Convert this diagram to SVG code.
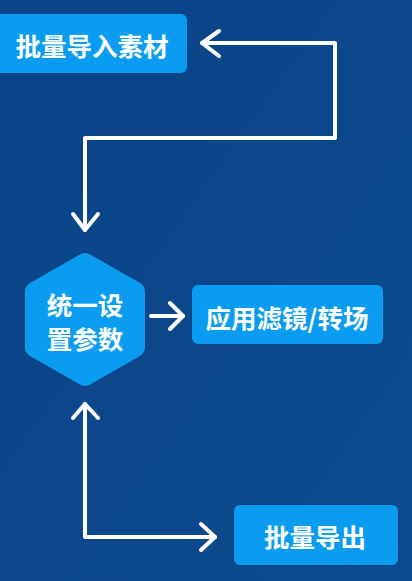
<svg xmlns="http://www.w3.org/2000/svg" width="412" height="581" viewBox="0 0 412 581">
<defs>
<linearGradient id="bg" x1="0" y1="0" x2="1" y2="1">
<stop offset="0" stop-color="#0b4488"/>
<stop offset="1" stop-color="#0d4a8e"/>
</linearGradient>
</defs>
<style>
.box{fill:#0a9cf0}
.t{font-family:"Noto Sans CJK SC","Noto Sans",sans-serif;font-weight:bold;font-size:25.5px;fill:#ffffff;text-anchor:middle;dominant-baseline:central}
.ln{fill:none;stroke:#ffffff;stroke-width:4;stroke-linecap:round;stroke-linejoin:round}
</style>
<rect width="412" height="581" fill="url(#bg)"/>
<g id="connectors">
<polyline class="ln" points="202,43 335,43 335,138 85,138 85,230"/>
<polyline class="ln" points="219,31 202,43 219,56"/>
<polyline class="ln" points="73,214 85,230 98,214"/>
<line class="ln" x1="151" y1="316" x2="183" y2="316"/>
<polyline class="ln" points="170,303 183,316 170,329"/>
<polyline class="ln" points="85,404 85,537 215,537"/>
<polyline class="ln" points="73,418 85,404 98,418"/>
<polyline class="ln" points="201,524 215,537 201,550"/>
</g>
<g id="node-import">
<rect class="box" x="-6" y="14" width="193" height="59" rx="6"/>
<text class="t" x="92" y="44">批量导入素材</text>
</g>
<g id="node-settings">
<path class="box" d="M79,255 Q85,251 91,255 L140,283 Q145,286 145,292 L145,347 Q145,353 140,356 L91,384 Q85,388 79,384 L30,356 Q25,353 25,347 L25,292 Q25,286 30,283 Z"/>
<text class="t" x="85" y="303">统一设</text>
<text class="t" x="85" y="337">置参数</text>
</g>
<g id="node-filter">
<rect class="box" x="192" y="285" width="191" height="59" rx="6"/>
<text class="t" x="287" y="316">应用滤镜/转场</text>
</g>
<g id="node-export">
<rect class="box" x="234" y="505" width="164" height="60" rx="6"/>
<text class="t" x="315" y="535">批量导出</text>
</g>
</svg>
